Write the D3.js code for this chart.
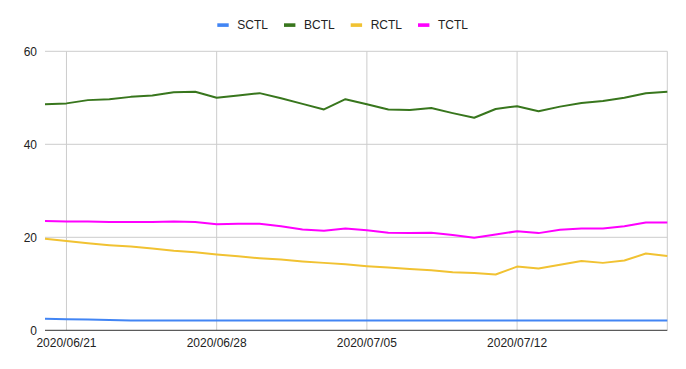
<!DOCTYPE html>
<html><head><meta charset="utf-8">
<script src="https://cdn.jsdelivr.net/npm/d3@7"></script>
<style>body{margin:0;background:#fff;}text{font-family:Arial,"Liberation Sans",sans-serif;}</style>
</head><body>
<svg id="c" width="686" height="369"></svg>
<script>
const startDate = "2020-06-20";
const seriesNames = ["SCTL","BCTL","RCTL","TCTL"];
const seriesColors = ["#4285F4","#38761D","#F1C232","#FF00FF"];
const SCTL = [2.5,2.4,2.3,2.2,2.1,2.1,2.1,2.1,2.1,2.1,2.1,2.1,2.1,2.1,2.1,2.1,2.1,2.1,2.1,2.1,2.1,2.1,2.1,2.1,2.1,2.1,2.1,2.1,2.1,2.1];
const BCTL = [48.6,48.8,49.5,49.7,50.2,50.5,51.2,51.3,50.0,50.5,51.0,49.9,48.7,47.5,49.7,48.6,47.5,47.4,47.8,46.7,45.7,47.6,48.2,47.1,48.1,48.9,49.3,50.0,51.0,51.3];
const RCTL = [19.7,19.2,18.7,18.3,18.0,17.6,17.1,16.8,16.3,15.9,15.5,15.2,14.8,14.5,14.2,13.8,13.5,13.2,12.9,12.5,12.3,12.0,13.7,13.3,14.1,14.9,14.5,15.0,16.5,16.0];
const TCTL = [23.5,23.4,23.4,23.3,23.3,23.3,23.4,23.3,22.8,22.9,22.9,22.4,21.7,21.4,21.9,21.5,21.0,20.9,21.0,20.5,19.9,20.6,21.3,20.9,21.6,21.9,21.9,22.4,23.2,23.2];
const yTicks = [0,20,40,60];
const xTickDates = ["2020-06-21","2020-06-28","2020-07-05","2020-07-12","2020-07-19"];

const parse = d3.utcParse("%Y-%m-%d");
const fmt = d3.utcFormat("%Y/%m/%d");
const start = parse(startDate);
const dates = SCTL.map((_,i)=>d3.utcDay.offset(start,i));
const allSeries = [SCTL,BCTL,RCTL,TCTL];

const svg = d3.select("#c");
const L=45, R=667.3, T=51.3, B=330.3;
const x = d3.scaleUtc().domain([dates[0], dates[dates.length-1]]).range([L,R]);
const y = d3.scaleLinear().domain([0,60]).range([B,T]);

// horizontal grid
svg.append("g").selectAll("line").data(yTicks.filter(d=>d>0)).join("line")
  .attr("x1",L).attr("x2",R).attr("y1",d=>y(d)).attr("y2",d=>y(d))
  .attr("stroke","#cccccc").attr("stroke-width",1);
// vertical grid
svg.append("g").selectAll("line").data(xTickDates.map(parse)).join("line")
  .attr("x1",d=>x(d)).attr("x2",d=>x(d)).attr("y1",T).attr("y2",B)
  .attr("stroke","#cccccc").attr("stroke-width",1);

// y labels
svg.append("g").selectAll("text").data(yTicks).join("text")
  .attr("x",37).attr("y",d=>y(d)+4.5).attr("text-anchor","end")
  .attr("font-size",12).attr("fill","#222").text(d=>d);
// x labels
svg.append("g").selectAll("text").data(xTickDates.slice(0,4).map(parse)).join("text")
  .attr("x",d=>x(d)).attr("y",347.3).attr("text-anchor","middle")
  .attr("font-size",12).attr("fill","#222").text(d=>fmt(d));

// lines
const line = d3.line().x((d,i)=>x(dates[i])).y(d=>y(d));
svg.append("g").selectAll("path").data(allSeries).join("path")
  .attr("d",d=>line(d)).attr("fill","none")
  .attr("stroke",(d,i)=>seriesColors[i]).attr("stroke-width",2)
  .attr("stroke-linejoin","round");

// baseline
svg.append("line").attr("x1",L).attr("x2",R).attr("y1",y(0)).attr("y2",y(0))
  .attr("stroke","#333").attr("stroke-width",1);

// legend
const legX = [217.3,284,350.7,418];
const lg = svg.append("g").selectAll("g").data(seriesNames).join("g")
  .attr("transform",(d,i)=>`translate(${legX[i]},0)`);
lg.append("rect").attr("x",0).attr("y",23.3).attr("width",11.4).attr("height",3.6)
  .attr("fill",(d,i)=>seriesColors[i]);
lg.append("text").attr("x",20).attr("y",28.8).attr("font-size",12).attr("fill","#222").text(d=>d);
</script>
</body></html>
